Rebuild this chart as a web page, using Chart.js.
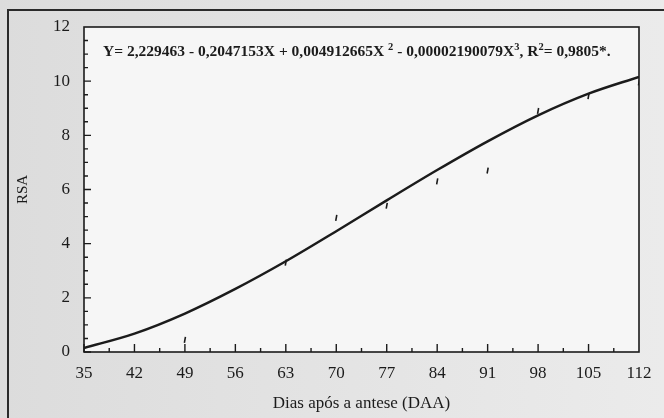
<!doctype html>
<html>
<head>
<title>RSA</title>
<script src="https://cdn.jsdelivr.net/npm/chart.js"></script>
<style>
  body { margin: 0; background: #e2e2e2; }
  canvas { display: block; }
</style>
</head>
<body>
<canvas id="grafico" width="664" height="418"></canvas>
<script>
// dias apos a antese
var dias = [35, 42, 49, 56, 63, 70, 77, 84, 91, 98, 105, 112];
// curva ajustada
var rsaCurva = [0.15, 0.68, 1.42, 2.33, 3.35, 4.46, 5.6, 6.72, 7.78, 8.74, 9.54, 10.16];
// pontos observados
var diasObs = [49, 63, 70, 77, 84, 91, 98, 105, 112];
var rsaObs = [0.45, 3.3, 4.95, 5.4, 6.3, 6.7, 8.9, 9.45, 9.95];
var yTicks = [0, 2, 4, 6, 8, 10, 12];

var tinta = '#1b1b1b';
var serif = "'Liberation Serif', 'Times New Roman', serif";

var moldura = {
  id: 'moldura',
  beforeDraw(chart) {
    var ctx = chart.ctx, a = chart.chartArea;
    ctx.save();
    var g = ctx.createLinearGradient(0, 0, 664, 0);
    g.addColorStop(0, '#dcdcdc');
    g.addColorStop(1, '#ebebeb');
    ctx.fillStyle = g;
    ctx.fillRect(0, 0, 664, 418);
    ctx.fillStyle = '#f6f6f6';
    ctx.fillRect(a.left, a.top, a.right - a.left, a.bottom - a.top);
    // borda externa do scan
    ctx.strokeStyle = '#2a2a2a';
    ctx.lineWidth = 2;
    ctx.beginPath();
    ctx.moveTo(8, 418);
    ctx.lineTo(8, 10);
    ctx.lineTo(664, 10);
    ctx.stroke();
    ctx.restore();
  },
  afterDatasetsDraw(chart) {
    var ctx = chart.ctx, a = chart.chartArea;
    var sx = chart.scales.x, sy = chart.scales.y;
    ctx.save();
    ctx.strokeStyle = tinta;
    ctx.lineWidth = 1.6;
    ctx.strokeRect(a.left, a.top, a.right - a.left, a.bottom - a.top);
    // ticks para dentro
    ctx.lineWidth = 1.4;
    ctx.beginPath();
    for (var v = 35; v < 112; v += 3.5) {
      var px = sx.getPixelForValue(v);
      var major = (v - 35) % 7 === 0;
      ctx.moveTo(px, a.bottom);
      ctx.lineTo(px, a.bottom - (major ? 8 : 4));
    }
    for (var w = 0; w < 12; w += 0.5) {
      var py = sy.getPixelForValue(w);
      var maj = w % 2 === 0;
      ctx.moveTo(a.left, py);
      ctx.lineTo(a.left + (maj ? 7 : 4), py);
    }
    ctx.stroke();
    // equacao
    var partes = [
      ['Y= 2,229463 - 0,2047153X + 0,004912665X ', 0],
      ['2', 1],
      [' - 0,00002190079X', 0],
      ['3', 1],
      [', R', 0],
      ['2', 1],
      ['= 0,9805*.', 0]
    ];
    var x = 103, base = 56;
    ctx.fillStyle = tinta;
    ctx.textBaseline = 'alphabetic';
    partes.forEach(function (p) {
      ctx.font = p[1] ? 'bold 10.5px ' + serif : 'bold 15.5px ' + serif;
      ctx.fillText(p[0], x, p[1] ? base - 6 : base);
      x += ctx.measureText(p[0]).width;
    });
    ctx.restore();
  }
};

new Chart(document.getElementById('grafico').getContext('2d'), {
  type: 'scatter',
  data: {
    datasets: [{
      type: 'line',
      data: dias.map(function (d, i) { return { x: d, y: rsaCurva[i] }; }),
      borderColor: tinta,
      borderWidth: 2.5,
      pointRadius: 0,
      cubicInterpolationMode: 'monotone',
      fill: false
    }, {
      data: diasObs.map(function (d, i) { return { x: d, y: rsaObs[i] }; }),
      pointStyle: 'line',
      rotation: 100,
      radius: 3,
      borderWidth: 1.6,
      borderColor: tinta
    }]
  },
  plugins: [moldura],
  options: {
    responsive: false,
    animation: false,
    layout: { padding: { top: 27, right: 25, left: 0, bottom: 0 } },
    plugins: { legend: { display: false }, tooltip: { enabled: false } },
    scales: {
      x: {
        type: 'linear', min: 35, max: 112,
        afterFit: function (s) { s.height = 66; },
        grid: { display: false, drawTicks: false },
        border: { display: false },
        ticks: { stepSize: 7, padding: 11, color: tinta, font: { family: serif, size: 17 } },
        title: { display: true, text: 'Dias após a antese (DAA)', color: tinta, padding: { top: 7 }, font: { family: serif, size: 17 } }
      },
      y: {
        min: 0, max: 12,
        afterFit: function (s) { s.width = 84; },
        afterBuildTicks: function (s) { s.ticks = yTicks.map(function (v) { return { value: v }; }); },
        grid: { display: false, drawTicks: false },
        border: { display: false },
        ticks: { padding: 14, color: tinta, font: { family: serif, size: 17 } },
        title: { display: true, text: 'RSA', color: tinta, padding: { top: 14, bottom: 0 }, font: { family: serif, size: 15 } }
      }
    }
  }
});
</script>
</body>
</html>
